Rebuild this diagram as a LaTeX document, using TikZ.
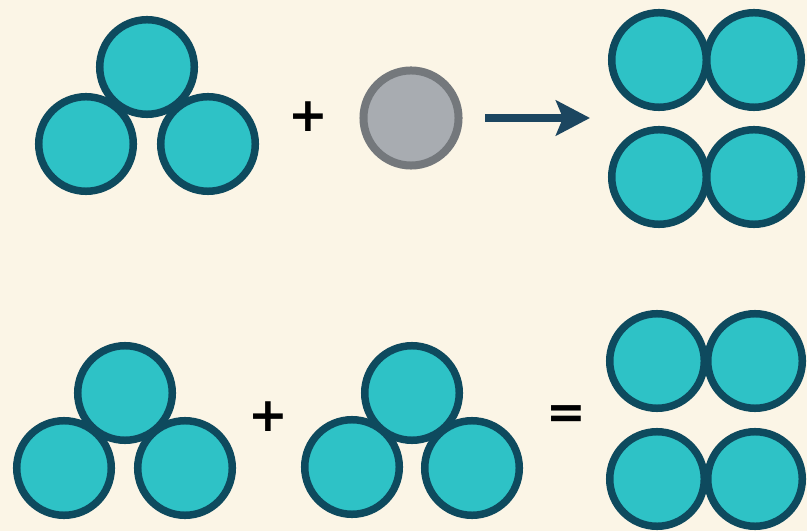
\documentclass[tikz,border=0pt]{standalone}
\usepackage{fontspec}
\usepackage{tikz}
\usetikzlibrary{positioning, arrows.meta}
\newfontfamily\signfont{DejaVu Sans}
\definecolor{bgcream}{HTML}{FBF5E6}
\definecolor{tealfill}{HTML}{2EC2C6}
\definecolor{tealedge}{HTML}{0E4A5E}
\definecolor{greyfill}{HTML}{A8ACB1}
\definecolor{greyedge}{HTML}{74787C}
\definecolor{arrowblue}{HTML}{1C4660}

\begin{document}
\begin{tikzpicture}[
    x=0.01cm, y=-0.01cm,
    ball/.style={circle, draw=tealedge, fill=tealfill, line width=0.075cm,
                 inner sep=0pt, minimum size=0.945cm},
    greyball/.style={ball, draw=greyedge, fill=greyfill, line width=0.08cm,
                     minimum size=0.95cm},
    sign/.style={inner sep=0pt, font=\signfont\bfseries\fontsize{13.5}{13.5}\selectfont},
    arrow/.style={-{Stealth[length=0.34cm, width=0.35cm, inset=0.07cm]},
                  line width=0.08cm, color=arrowblue},
]

% --- background and fixed frame ---
\useasboundingbox (0,0) rectangle (807,531);
\fill[bgcream] (0,0) rectangle (807,531);

% ============== top row ==============
% --- trimer ---
\node[ball] (ta1) at (86,144) {};
\node[ball] (ta2) at (208,144) {};
\node[ball] (ta3) at (147,67) {};

\node[sign] (tplus) at (308,117) {+};

% --- grey particle ---
\node[greyball] (grey) at (411,118) {};

% --- arrow ---
\coordinate (arrstart) at (485,118);
\coordinate (arrend) at (590,118);
\draw[arrow] (arrstart) -- (arrend);

% --- product: two pairs ---
\node[ball] (tq1) at (659,60) {};
\node[ball] (tq2) at (754,60) {};
\node[ball] (tq3) at (659,177) {};
\node[ball] (tq4) at (754,177) {};

% ============== bottom row ==============
% --- first trimer ---
\node[ball] (ba1) at (64,468) {};
\node[ball] (ba2) at (185,468) {};
\node[ball] (ba3) at (125,393) {};

\node[sign] (bplus) at (268,417) {+};

% --- second trimer ---
\node[ball] (bb1) at (352,467) {};
\node[ball] (bb2) at (472,468) {};
\node[ball] (bb3) at (412,393) {};

\node[sign] (eq) at (566,417) {=};

% --- product: two pairs ---
\node[ball] (bq1) at (657,361) {};
\node[ball] (bq2) at (755,361) {};
\node[ball] (bq3) at (657,479) {};
\node[ball] (bq4) at (755,479) {};

\end{tikzpicture}
\end{document}
